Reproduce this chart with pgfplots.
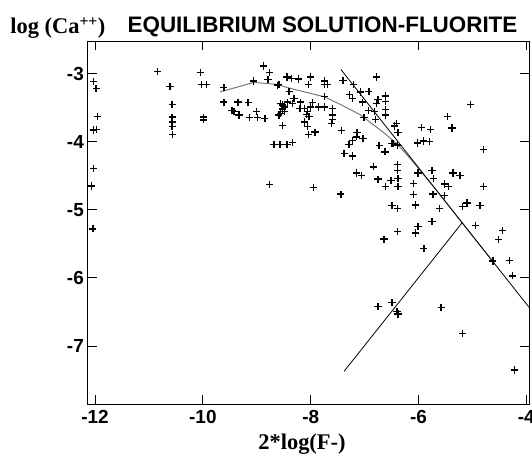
\documentclass[border=0pt]{standalone}
\usepackage{fontspec}
\setmainfont{Liberation Sans}
\newfontfamily\seriffont{Liberation Serif}
\usepackage{pgfplots}
\pgfplotsset{compat=1.18}
\definecolor{curvegray}{RGB}{120,120,120}
\begin{document}
\begin{tikzpicture}
\path[use as bounding box] (-87.5bp,-54bp) rectangle (444.5bp,404bp);
\begin{axis}[
  at={(0,0)}, anchor=south west,
  scale only axis, width=441.5bp, height=362.5bp,
  xmin=-12.14, xmax=-3.95, ymin=-7.85, ymax=-2.53,
  xtick={-12,-10,-8,-6,-4}, xticklabels={-12,-10,-8,-6,-4},
  ytick={-7,-6,-5,-4,-3}, yticklabels={-7,-6,-5,-4,-3},
  tick align=inside, major tick length=9bp,
  tick style={black, line width=1bp},
  axis line style={black, line width=1bp},
  ticklabel style={font=\fontsize{19}{19}\selectfont\bfseries, inner sep=0pt},
  xticklabel shift=6bp, yticklabel shift=3.5bp,
]
\addplot[only marks, mark=+, mark size=3.6bp, mark options={line width=1.3bp, black}] table {
x y
-12.03 -3.12
-11.98 -3.22
-11.95 -3.63
-11.97 -3.82
-12.03 -3.83
-12.03 -4.39
-12.06 -4.65
-12.04 -5.28
-10.84 -2.97
-10.61 -3.19
-10.57 -3.45
-10.57 -3.64
-10.57 -3.71
-10.57 -3.78
-10.56 -3.89
-10.05 -2.99
-10.02 -3.16
-9.93 -3.16
-9.99 -3.64
-9.99 -3.68
-9.61 -3.21
-9.61 -3.42
-9.35 -3.42
-9.16 -3.43
-9.46 -3.54
-9.42 -3.56
-9.33 -3.61
-9.14 -3.65
-9.00 -3.56
-8.98 -3.65
-8.85 -3.66
-9.06 -3.11
-8.88 -2.89
-8.77 -2.99
-8.79 -3.09
-8.59 -3.16
-8.62 -3.17
-8.44 -3.05
-8.68 -4.04
-8.57 -4.04
-8.44 -4.04
-8.76 -4.63
-8.56 -3.44
-8.52 -3.46
-8.49 -3.49
-8.56 -3.59
-8.49 -3.56
-8.59 -3.61
-8.52 -3.76
-8.52 -3.52
-8.43 -3.05
-8.35 -3.07
-8.22 -3.08
-8.00 -3.05
-8.04 -3.16
-7.74 -3.11
-7.69 -3.16
-7.75 -3.16
-7.40 -3.10
-7.21 -3.16
-6.78 -3.05
-8.40 -3.26
-8.31 -3.37
-8.43 -3.42
-8.34 -3.44
-8.19 -3.42
-8.20 -3.51
-8.11 -3.51
-8.06 -3.56
-8.00 -3.49
-8.08 -3.60
-8.03 -3.63
-7.97 -3.43
-7.85 -3.49
-7.75 -3.49
-7.74 -3.34
-8.11 -3.71
-8.06 -3.78
-8.04 -3.90
-7.92 -3.86
-8.34 -4.01
-7.60 -3.51
-7.60 -3.61
-7.60 -3.67
-7.61 -3.73
-7.28 -3.31
-7.23 -3.37
-7.04 -3.42
-7.07 -3.27
-6.92 -3.26
-6.93 -3.54
-6.78 -3.44
-6.75 -3.38
-6.61 -3.33
-6.61 -3.41
-6.81 -3.56
-6.80 -3.67
-6.61 -3.53
-6.61 -3.61
-7.01 -3.65
-7.43 -3.84
-7.14 -3.87
-7.15 -3.93
-7.22 -3.98
-7.03 -3.95
-7.29 -4.04
-7.38 -4.17
-7.23 -4.21
-6.73 -4.06
-6.62 -4.15
-6.46 -4.03
-6.41 -3.73
-6.44 -3.77
-6.38 -3.87
-6.39 -4.05
-6.49 -4.03
-5.95 -3.79
-5.78 -3.82
-5.46 -3.63
-5.38 -3.80
-5.04 -3.45
-6.02 -4.02
-5.91 -3.99
-5.79 -4.00
-4.79 -4.11
-6.39 -4.34
-6.39 -4.42
-6.38 -4.54
-6.38 -4.66
-6.84 -4.37
-7.15 -4.46
-7.06 -4.50
-6.75 -4.55
-6.61 -4.66
-6.51 -4.57
-7.95 -4.67
-7.44 -4.77
-6.01 -4.46
-5.75 -4.42
-5.72 -4.54
-5.36 -4.46
-5.23 -4.50
-6.09 -4.61
-5.52 -4.62
-5.44 -4.66
-4.79 -4.66
-6.09 -4.78
-5.73 -4.77
-5.52 -4.79
-6.49 -4.94
-6.39 -4.98
-6.06 -4.93
-5.61 -4.98
-5.19 -4.95
-5.10 -4.90
-4.86 -4.94
-5.75 -5.17
-6.01 -5.24
-6.39 -5.32
-6.06 -5.34
-6.64 -5.43
-4.94 -5.23
-4.44 -5.30
-4.51 -5.44
-5.90 -5.57
-4.62 -5.75
-4.31 -5.74
-4.25 -5.97
-6.75 -6.42
-6.49 -6.36
-6.38 -6.53
-6.40 -6.49
-5.58 -6.43
-5.19 -6.82
-4.22 -7.35
};
\addplot[curvegray, line width=1bp, no marks] table {
x y
-9.68 -3.27
-9.05 -3.13
-8.62 -3.16
-8.37 -3.22
-8.06 -3.28
-7.75 -3.34
-7.51 -3.43
-7.26 -3.53
-7.07 -3.61
-6.89 -3.72
-6.64 -3.87
-6.39 -4.04
-6.15 -4.25
-5.90 -4.49
-5.65 -4.73
-5.28 -5.10
-4.60 -5.78
};
\addplot[black, line width=0.8bp, no marks] table {
x y
-7.44 -2.94
-3.90 -6.48
};
\addplot[black, line width=0.8bp, no marks] table {
x y
-7.38 -7.37
-5.19 -5.19
};
\end{axis}
\node[anchor=base, inner sep=0pt, font=\fontsize{22.5}{27}\selectfont\bfseries] at (235bp,371.7bp) {EQUILIBRIUM SOLUTION-FLUORITE};
\node[anchor=base west, inner sep=0pt, font=\fontsize{22.5}{27}\selectfont\seriffont\bfseries] at (-77.3bp,370bp) {log (Ca\textsuperscript{++})};
\node[anchor=base, inner sep=0pt, font=\fontsize{22.5}{27}\selectfont\seriffont\bfseries] at (214.5bp,-45.2bp) {2*log(F-)};
\end{tikzpicture}
\end{document}
